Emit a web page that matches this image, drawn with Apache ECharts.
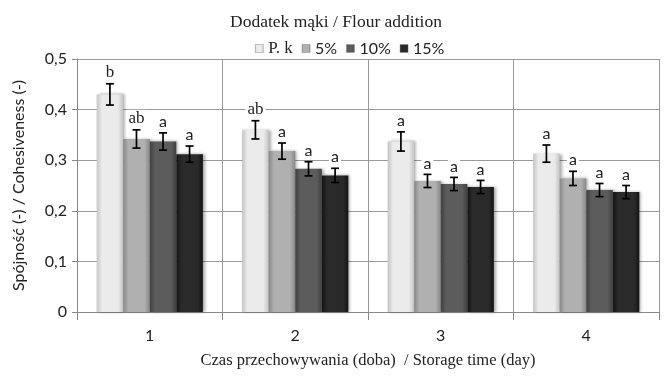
<!DOCTYPE html>
<html><head><meta charset="utf-8">
<script src="https://cdn.jsdelivr.net/npm/echarts@6/dist/echarts.min.js"></script>
<style>html,body{margin:0;padding:0;background:#fff}#c{width:671px;height:383px}</style>
</head><body><div id="c"></div>
<script>
const categories = ['1', '2', '3', '4'];
const seriesNames = ['P. k', '5%', '10%', '15%'];
const pk  = [0.430, 0.360, 0.337, 0.313];
const p5  = [0.342, 0.318, 0.259, 0.264];
const p10 = [0.337, 0.283, 0.253, 0.241];
const p15 = [0.312, 0.270, 0.247, 0.237];
const pkErr  = [0.021, 0.018, 0.019, 0.017];
const p5Err  = [0.018, 0.016, 0.013, 0.014];
const p10Err = [0.017, 0.014, 0.013, 0.013];
const p15Err = [0.016, 0.014, 0.013, 0.013];
const pkLet  = ['b', 'ab', 'a', 'a'];
const p5Let  = ['ab', 'a', 'a', 'a'];
const p10Let = ['a', 'a', 'a', 'a'];
const p15Let = ['a', 'a', 'a', 'a'];
const yTicks = ['0', '0,1', '0,2', '0,3', '0,4', '0,5'];

const values = [pk, p5, p10, p15];
const errs = [pkErr, p5Err, p10Err, p15Err];
const lets = [pkLet, p5Let, p10Let, p15Let];
const colors = [
  ['#c4c4c4', '#ebebeb'],
  ['#888888', '#b0b0b0'],
  ['#404040', '#5c5c5c'],
  ['#141414', '#2a2a2a']
];
const legendColors = ['#d8d8d8', '#a0a0a0', '#555555', '#202020'];
const CAT_GAP = 0.27;

const chart = echarts.init(document.getElementById('c'));
const series = [];
values.forEach((v, i) => {
  series.push({
    name: seriesNames[i],
    type: 'bar',
    data: v,
    barGap: '0%',
    barCategoryGap: (CAT_GAP * 100) + '%',
    itemStyle: {
      color: new echarts.graphic.LinearGradient(0, 0, 1, 0, [
        {offset: 0, color: colors[i][0]},
        {offset: 0.2, color: colors[i][1]},
        {offset: 0.8, color: colors[i][1]},
        {offset: 1, color: colors[i][0]}
      ]),
      shadowColor: 'rgba(0,0,0,0.35)',
      shadowBlur: 3,
      shadowOffsetX: 2,
      shadowOffsetY: 0
    },
    z: 2
  });
});
values.forEach((v, i) => {
  series.push({
    type: 'custom',
    z: 5,
    silent: true,
    data: v.map((val, k) => [k, val, errs[i][k]]),
    encode: {x: 0, y: 1},
    renderItem: function (params, api) {
      const k = api.value(0);
      const val = api.value(1);
      const e = api.value(2);
      const letter = lets[i][k];
      const band = api.size([1, 0])[0];
      const total = band * (1 - CAT_GAP);
      const w = total / 4;
      const center = api.coord([k, val])[0];
      const x = center - total / 2 + w * (i + 0.5);
      const yHi = api.coord([k, val + e])[1];
      const yLo = api.coord([k, val - e])[1];
      const cap = 4;
      const style = {stroke: '#000', lineWidth: 1.7};
      const serif = letter.indexOf('b') >= 0;
      return {
        type: 'group',
        children: [
          {type: 'line', shape: {x1: x, y1: yHi, x2: x, y2: yLo}, style},
          {type: 'line', shape: {x1: x - cap, y1: yHi, x2: x + cap, y2: yHi}, style},
          {type: 'line', shape: {x1: x - cap, y1: yLo, x2: x + cap, y2: yLo}, style},
          {type: 'text', style: {
            text: letter, x: x, y: yHi - 3,
            align: 'center', verticalAlign: 'bottom',
            font: serif ? '17px "Liberation Serif"' : '16px Lato',
            fill: '#222',
            backgroundColor: '#fff',
            padding: [0, 2, 0, 2]
          }}
        ]
      };
    }
  });
});

chart.setOption({
  animation: false,
  backgroundColor: '#fff',
  title: {
    text: 'Dodatek mąki / Flour addition',
    left: 331, top: 8, textAlign: 'center',
    textStyle: {fontFamily: 'Liberation Serif', fontWeight: 'normal', fontSize: 17.5, color: '#222'}
  },
  legend: {
    data: seriesNames,
    left: 250, top: 35,
    icon: 'rect', itemWidth: 8, itemHeight: 8, itemGap: 9,
    formatter: n => n === 'P. k' ? '{s|' + n + '}' : '{a|' + n + '}',
    textStyle: {
      color: '#222',
      rich: {
        s: {fontFamily: 'Liberation Serif', fontSize: 17, color: '#222'},
        a: {fontFamily: 'Lato', fontSize: 16, color: '#222'}
      }
    },
    itemStyle: {borderColor: '#888', borderWidth: 0.5}
  },
  color: legendColors,
  grid: {left: 77, right: 12, top: 59, bottom: 71, containLabel: false},
  xAxis: {
    type: 'category',
    data: categories,
    name: 'Czas przechowywania (doba)  / Storage time (day)',
    nameLocation: 'middle', nameGap: 40,
    nameTextStyle: {fontFamily: 'Liberation Serif', fontSize: 16.5, color: '#222'},
    axisLine: {lineStyle: {color: '#888', width: 1}},
    axisTick: {show: true, length: 8, lineStyle: {color: '#888'}},
    axisLabel: {fontFamily: 'Lato', fontSize: 16, color: '#222', margin: 16},
    splitLine: {show: true, lineStyle: {color: '#999', width: 1}}
  },
  yAxis: {
    type: 'value', min: 0, max: 0.5, interval: 0.1,
    name: 'Spójność (-) / Cohesiveness (-)',
    nameLocation: 'middle', nameGap: 50,
    nameTextStyle: {fontFamily: 'Lato', fontSize: 16, color: '#222'},
    axisLine: {show: true, lineStyle: {color: '#888'}},
    axisTick: {show: true, length: 5, lineStyle: {color: '#888'}},
    axisLabel: {
      fontFamily: 'Lato', fontSize: 16, color: '#222', margin: 10,
      formatter: (v) => yTicks[Math.round(v * 10)]
    },
    splitLine: {show: true, lineStyle: {color: '#999', width: 1}}
  },
  series: series
});
</script></body></html>
